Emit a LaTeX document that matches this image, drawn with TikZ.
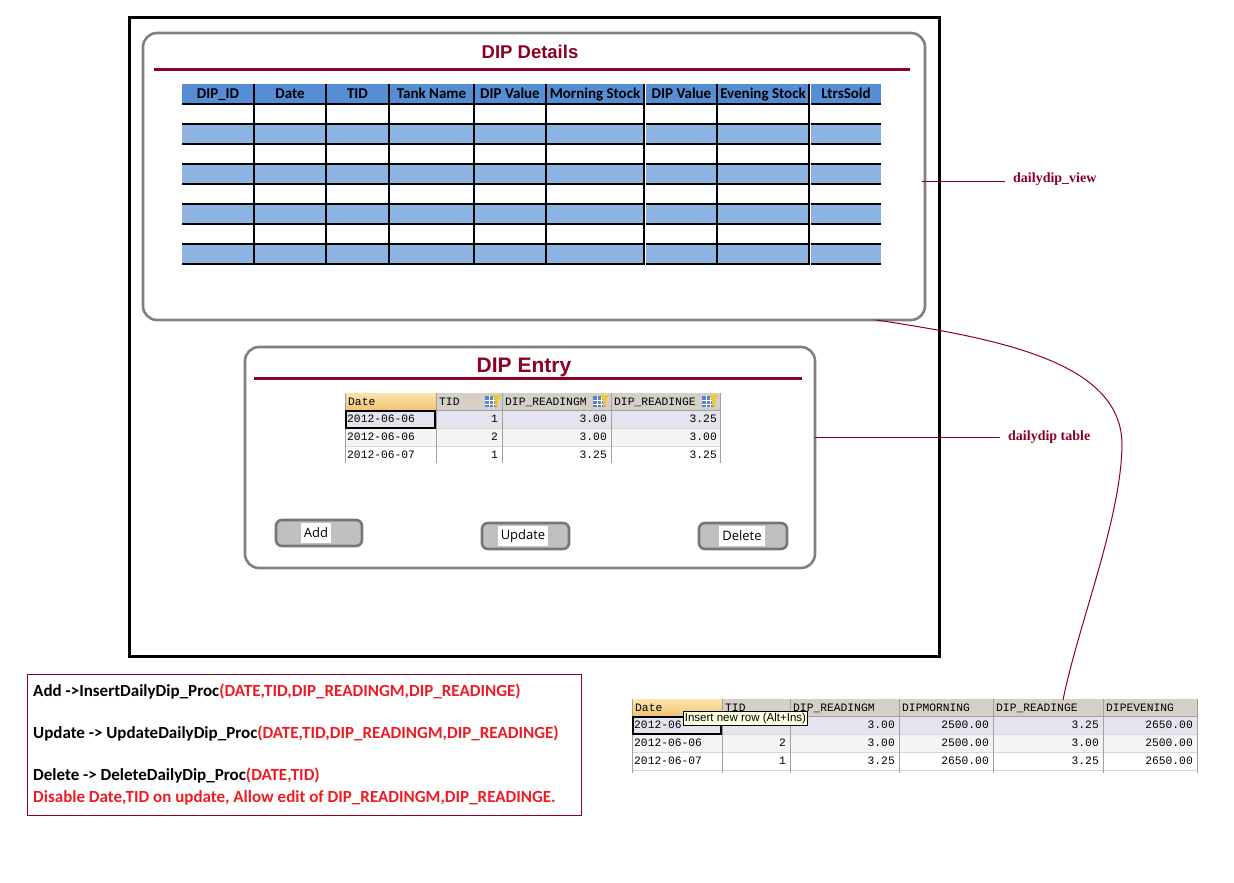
\documentclass[tikz,border=0pt]{standalone}
\usepackage{fontspec}
\setmainfont{Carlito}
\newfontfamily\monof{Liberation Mono}
\newfontfamily\serff{Liberation Serif}
\newfontfamily\titf{Liberation Sans}
\newfontfamily\btnf{Open Sans}
\definecolor{dred}{RGB}{139,0,35}
\definecolor{hblue}{RGB}{85,142,213}
\definecolor{lblue}{RGB}{141,180,226}
\definecolor{pgray}{RGB}{128,128,128}
\definecolor{bfill}{RGB}{192,192,192}
\definecolor{bline}{RGB}{118,118,118}
\definecolor{ghdr}{RGB}{212,208,200}
\definecolor{grow1}{RGB}{228,228,238}
\definecolor{grow2}{RGB}{244,244,244}
\definecolor{gline}{RGB}{160,160,160}
\definecolor{hline}{RGB}{215,215,215}
\definecolor{txtred}{RGB}{237,28,36}
\definecolor{tipbg}{RGB}{255,255,225}
\definecolor{otop}{RGB}{252,228,176}
\definecolor{obot}{RGB}{240,196,112}
\definecolor{iconb}{RGB}{90,130,200}
\definecolor{icony}{RGB}{240,200,40}
\tikzset{
  panel/.style={draw=pgray,line width=2.6pt,rounded corners=14pt},
  title/.style={font=\titf\bfseries\fontsize{#1}{#1}\selectfont,text=dred,inner sep=0pt},
  hdr/.style={font=\bfseries\fontsize{15}{16}\selectfont,inner sep=0pt,text height=10pt,text depth=3pt},
  gtxt/.style={font=\monof\fontsize{11.3}{12}\selectfont,inner sep=0pt},
  lbl/.style={font=\serff\bfseries\fontsize{14}{15}\selectfont,text=dred,inner sep=0pt},
  btn/.style={draw=bline,fill=bfill,line width=2.6pt,rounded corners=6pt},
  btntxt/.style={fill=white,font=\btnf\fontsize{13}{14}\selectfont,inner xsep=3pt,inner ysep=2pt,minimum height=20pt},
  note/.style={font=\bfseries\fontsize{17}{18}\selectfont,inner sep=0pt,anchor=west},
  conn/.style={draw=dred,line width=1pt},
}
\newcommand{\hicon}[2]{%
  \fill[iconb] (#1,#2) rectangle ++(12,11);
  \draw[white,line width=0.6pt] (#1+4,#2) -- ++(0,11) (#1+8,#2) -- ++(0,11) (#1,#2+4) -- ++(12,0) (#1,#2+8) -- ++(12,0);
  \fill[icony] (#1+7,#2-1) -- ++(9,0) -- ++(-3,5) -- ++(0,6) -- ++(-3,0) -- ++(0,-6) -- cycle;
}
\begin{document}
\begin{tikzpicture}[x=1pt,y=-1pt]
\useasboundingbox (0,0) rectangle (1234,883);
% outer frame
\draw[line width=3pt] (129,18) rectangle (939,656);
% DIP Details panel
\draw[panel] (143,33) rectangle (925,320);
\node[title=18.5] (t1) at (530,52) {DIP Details};
\draw[dred,line width=3pt] (154,70) -- (910,70);
% table
\fill[hblue] (182,84) rectangle (881,104);
\foreach \r in {1,3,5,7} \fill[lblue] (182,{104+20*\r}) rectangle (881,{124+20*\r});
\foreach \yy in {104,124,...,264} \draw[line width=1.2pt] (182,\yy) -- (881,\yy);
\foreach \xx in {254,326,389,474,546,644,717,809} \draw[line width=1.2pt] (\xx,84) -- (\xx,264);
\fill[white] (644.6,84) rectangle (646.2,264.6);
\fill[white] (809.6,84) rectangle (811.2,264.6);
\foreach \a/\b/\t [count=\i] in {182/254/DIP\_ID,254/326/Date,326/389/TID,389/474/Tank Name,474/546/DIP Value,546/644/Morning Stock,646/717/DIP Value,717/809/Evening Stock,811/881/LtrsSold}
  \node[hdr] (h\i) at ({(\a+\b)/2},94.5) {\t};
% labels
\node[lbl,anchor=west] (lv) at (1013,179) {dailydip\_view};
\coordinate (lvs) at (922,181);
\coordinate (lve) at (1005,181);
\draw[conn] (lvs) -- (lve);
% DIP Entry panel
\draw[panel] (245,347) rectangle (815,568);
\node[title=21] (t2) at (524,367) {DIP Entry};
\draw[dred,line width=3pt] (254,378) -- (802,378);
% grid 1
\fill[ghdr] (345,393) rectangle (720,410);
\shade[top color=otop,bottom color=obot] (345,393) rectangle (436,410);
\fill[grow1] (345,410) rectangle (720,428);
\fill[grow2] (345,428) rectangle (720,446);
\foreach \yy in {428,446} \draw[hline,line width=0.8pt] (345,\yy) -- (720,\yy);
\foreach \xx in {345,436,502,611,720} \draw[gline,line width=0.9pt] (\xx,393) -- (\xx,463);
\draw[gline,line width=0.8pt] (345,410) -- (720,410);
\draw[line width=2pt] (346,411) rectangle (435,428);
\hicon{485}{396}
\hicon{593}{396}
\hicon{702}{396}
\node[gtxt,anchor=west] (g1h1) at (348,402) {Date};
\node[gtxt,anchor=west] (g1h2) at (439,402) {TID};
\node[gtxt,anchor=west] (g1h3) at (505,402) {DIP\_READINGM};
\node[gtxt,anchor=west] (g1h4) at (614,402) {DIP\_READINGE};
\foreach \d/\t/\m/\e [count=\i] in {2012-06-06/1/3.00/3.25,2012-06-06/2/3.00/3.00,2012-06-07/1/3.25/3.25}{
  \node[gtxt,anchor=west] (g1d\i) at (347,{401+18*\i}) {\d};
  \node[gtxt,anchor=east] (g1t\i) at (498,{401+18*\i}) {\t};
  \node[gtxt,anchor=east] (g1m\i) at (607,{401+18*\i}) {\m};
  \node[gtxt,anchor=east] (g1e\i) at (717,{401+18*\i}) {\e};
}
% buttons
\draw[btn] (276,520) rectangle (362,546);
\node[btntxt] (badd) at (316,533) {Add};
\draw[btn] (482,523) rectangle (569,549);
\node[btntxt] (bupd) at (523,536) {Update};
\draw[btn] (699,523) rectangle (787,549);
\node[btntxt] (bdel) at (742,536) {Delete};
% dailydip table label
\node[lbl,anchor=west] (lt) at (1008,437) {dailydip table};
\coordinate (lts) at (815,437);
\coordinate (lte) at (1000,437);
\draw[conn] (lts) -- (lte);
% notes box
\draw[dred,line width=0.9pt] (27,674) rectangle (581,815);
\node[note] (n1) at (33,692) {Add ->InsertDailyDip\_Proc\textcolor{txtred}{(DATE,TID,DIP\_READINGM,DIP\_READINGE)}};
\node[note] (n2) at (33,734) {Update -> UpdateDailyDip\_Proc\textcolor{txtred}{(DATE,TID,DIP\_READINGM,DIP\_READINGE)}};
\node[note] (n3) at (33,776) {Delete -> DeleteDailyDip\_Proc\textcolor{txtred}{(DATE,TID)}};
\node[note,text=txtred] (n4) at (33,798) {Disable Date,TID on update, Allow edit of DIP\_READINGM,DIP\_READINGE.};
% grid 2
\fill[ghdr] (632,699) rectangle (1197,716);
\shade[top color=otop,bottom color=obot] (632,699) rectangle (722,716);
\fill[grow1] (632,716) rectangle (1197,734);
\fill[grow2] (632,734) rectangle (1197,752);
\foreach \yy in {734,752,770} \draw[hline,line width=0.8pt] (632,\yy) -- (1197,\yy);
\foreach \xx in {632,722,790,899,993,1103,1197} \draw[gline,line width=0.9pt] (\xx,699) -- (\xx,773);
\draw[gline,line width=0.8pt] (632,716) -- (1197,716);
\draw[line width=2pt] (633,717) rectangle (721,734);
\foreach \x/\t [count=\i] in {635/Date,725/TID,793/DIP\_READINGM,902/DIPMORNING,996/DIP\_READINGE,1106/DIPEVENING}
  \node[gtxt,anchor=west] (g2h\i) at (\x,708) {\t};
\node[gtxt,anchor=west] (g2d1) at (634,725) {2012-06};
\foreach \d/\t/\m/\mm/\e/\ee [count=\i] in {2012-06-06/1/3.00/2500.00/3.25/2650.00,2012-06-06/2/3.00/2500.00/3.00/2500.00,2012-06-07/1/3.25/2650.00/3.25/2650.00}{
  \ifnum\i>1
  \node[gtxt,anchor=west] (g2d\i) at (634,{707+18*\i}) {\d};
  \node[gtxt,anchor=east] (g2t\i) at (786,{707+18*\i}) {\t};
  \fi
  \node[gtxt,anchor=east] (g2m\i) at (895,{707+18*\i}) {\m};
  \node[gtxt,anchor=east] (g2mm\i) at (989,{707+18*\i}) {\mm};
  \node[gtxt,anchor=east] (g2e\i) at (1099,{707+18*\i}) {\e};
  \node[gtxt,anchor=east] (g2ee\i) at (1193,{707+18*\i}) {\ee};
}
\node[draw=black,fill=tipbg,line width=0.8pt,font=\titf\fontsize{11.5}{12}\selectfont,inner xsep=1.5pt,inner ysep=1.5pt,anchor=north west] (tip) at (683,711) {Insert new row (Alt+Ins)};
% curve connector
\coordinate (cs) at (876,320);
\coordinate (ce) at (1063,700);
\draw[conn] (cs) .. controls (1010,340) and (1122,365) .. (1122,445) .. controls (1121,520) and (1078,625) .. (ce);
\end{tikzpicture}
\end{document}
